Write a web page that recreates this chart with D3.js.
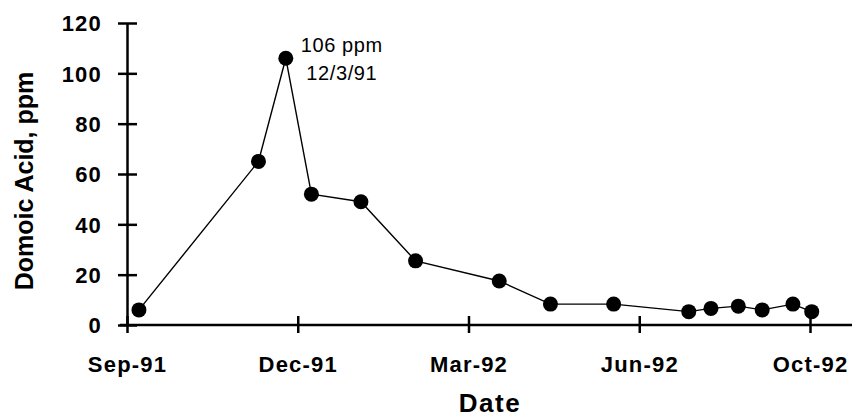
<!DOCTYPE html>
<html>
<head>
<meta charset="utf-8">
<script src="https://cdn.jsdelivr.net/npm/d3@7"></script>
<style>
    body { margin: 0; background: #fff; }
    svg { display: block; font-family: "Liberation Sans", Arial, sans-serif; }
    .axis path, .axis line { stroke: #000; stroke-width: 2.5; }
    .axis text { font-size: 22px; font-weight: bold; fill: #000; letter-spacing: 1.2px; }
    .axis-label { font-weight: bold; fill: #000; }
    .note { font-size: 20px; fill: #000; letter-spacing: 0.6px; }
</style>
</head>
<body>
<svg id="chart"></svg>
<script>
// sample dates and domoic acid values (ppm)
const sampleDates = ['1991-09-08', '1991-11-17', '1991-12-03', '1991-12-18', '1992-01-16',
    '1992-02-17', '1992-04-06', '1992-05-06', '1992-06-12', '1992-07-26',
    '1992-08-08', '1992-08-24', '1992-09-07', '1992-09-25', '1992-10-06'];
const acidValues = [6, 65, 106, 52, 49, 25.5, 17.5, 8.3, 8.3, 5.3, 6.6, 7.5, 6, 8.3, 5.3];

// x ticks are every 100 days from Sep 1 1991
const xTickDates = ['1991-09-01', '1991-12-10', '1992-03-19', '1992-06-27', '1992-10-05'];
const yTicks = [0, 20, 40, 60, 80, 100, 120];
const peakNote = ['106 ppm', '12/3/91'];

const parseDate = d3.timeParse('%Y-%m-%d');
const data = sampleDates.map((d, i) => ({ date: parseDate(d), value: acidValues[i] }));
const tickDates = xTickDates.map(parseDate);

const chartWidth = 852, chartHeight = 418;
const margin = { left: 127, top: 23, bottom: 325, lastTick: 810 };

const svg = d3.select('#chart')
    .attr('width', chartWidth)
    .attr('height', chartHeight);

const xScale = d3.scaleTime()
    .domain([tickDates[0], tickDates[tickDates.length - 1]])
    .range([margin.left, margin.lastTick]);

const yScale = d3.scaleLinear()
    .domain([0, 120])
    .range([margin.bottom, margin.top]);

// y axis, ticks cross the line
const yAxisG = svg.append('g')
    .attr('class', 'axis y-axis')
    .attr('transform', `translate(${margin.left},0)`)
    .call(d3.axisLeft(yScale).tickValues(yTicks).tickSizeOuter(0).tickPadding(19));
yAxisG.selectAll('.tick line').attr('x1', -9).attr('x2', 10);
yAxisG.selectAll('.tick text').attr('dy', '0.36em');

// x axis, line runs to the right edge
const xAxisG = svg.append('g')
    .attr('class', 'axis x-axis')
    .attr('transform', `translate(0,${margin.bottom})`)
    .call(d3.axisBottom(xScale).tickValues(tickDates).tickSizeOuter(0)
        .tickFormat(d3.timeFormat('%b-%y')).tickPadding(25));
xAxisG.select('.domain').attr('d', `M${margin.left - 7},0H${chartWidth}`);
xAxisG.selectAll('.tick line').attr('y1', -9).attr('y2', 8);
xAxisG.selectAll('.tick text').attr('dy', '0.71em');

// axis titles
svg.append('text')
    .attr('class', 'axis-label')
    .attr('x', 490)
    .attr('y', 412)
    .attr('text-anchor', 'middle')
    .style('font-size', '26px')
    .style('letter-spacing', '1.5px')
    .text('Date');

svg.append('text')
    .attr('class', 'axis-label')
    .attr('transform', 'rotate(-90)')
    .attr('x', -181)
    .attr('y', 33)
    .attr('text-anchor', 'middle')
    .style('font-size', '25px')
    .text('Domoic Acid, ppm');

// line and markers
const line = d3.line()
    .x(d => xScale(d.date))
    .y(d => yScale(d.value));

svg.append('path')
    .datum(data)
    .attr('d', line)
    .attr('fill', 'none')
    .attr('stroke', '#000')
    .attr('stroke-width', 1.4);

svg.selectAll('.dot')
    .data(data)
    .join('circle')
    .attr('class', 'dot')
    .attr('cx', d => xScale(d.date))
    .attr('cy', d => yScale(d.value))
    .attr('r', 7.5)
    .attr('fill', '#000');

// note on the peak
const peak = data[2];
svg.selectAll('.note')
    .data(peakNote)
    .join('text')
    .attr('class', 'note')
    .attr('x', xScale(peak.date) + 56)
    .attr('y', (d, i) => yScale(peak.value) - 6 + i * 28)
    .attr('text-anchor', 'middle')
    .text(d => d);
</script>
</body>
</html>
